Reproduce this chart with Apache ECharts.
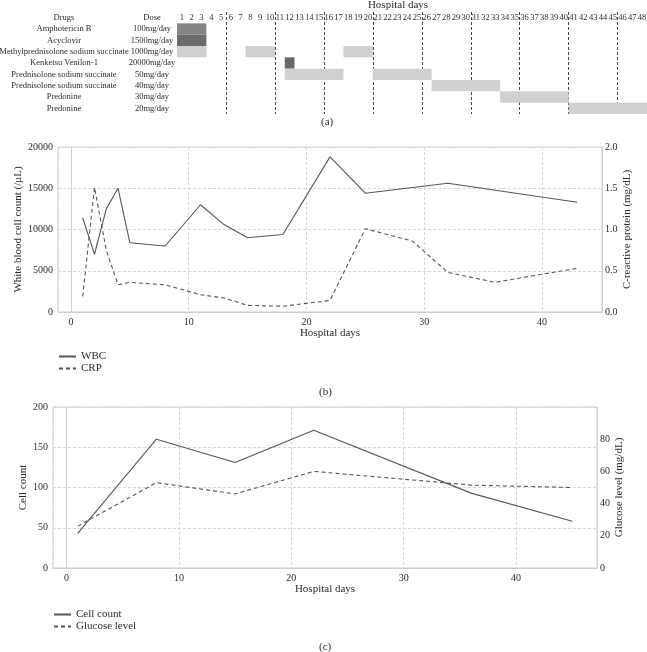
<!DOCTYPE html>
<html>
<head>
<meta charset="utf-8">
<script src="https://cdn.jsdelivr.net/npm/echarts@6/dist/echarts.min.js"></script>
<style>
  html, body { margin: 0; padding: 0; background: #fff; }
  #box { width: 647px; height: 652px; }
</style>
</head>
<body>
<div id="box"></div>
<script>
// ---- panel (a): drug schedule ----
const drugs = ["Drugs", "Amphotericin B", "Acyclovir", "Methylprednisolone sodium succinate",
  "Kenketsu Venilon-1", "Prednisolone sodium succinate", "Prednisolone sodium succinate",
  "Predonine", "Predonine"];
const doses = ["Dose", "100mg/day", "1500mg/day", "1000mg/day", "20000mg/day",
  "50mg/day", "40mg/day", "30mg/day", "20mg/day"];
const days = [];
for (let d = 1; d <= 48; d++) days.push(String(d));
// [row, first day, last day]
const regimens = [
  [1, 1, 3], [2, 1, 3], [3, 1, 3], [3, 8, 10], [3, 18, 20], [4, 12, 12],
  [5, 12, 17], [5, 21, 26], [6, 27, 33], [7, 34, 40], [8, 41, 48]
];
const rowColors = ["#fff", "#858585", "#6b6b6b", "#d0d0d0", "#6a6a6a", "#d0d0d0", "#d0d0d0", "#d0d0d0", "#d0d0d0"];

// ---- panel (b): WBC / CRP ----
const labDays = [1, 2, 3, 4, 5, 8, 11, 13, 15, 18, 22, 25, 29, 32, 36, 43];
const wbc = [11400, 7000, 12500, 15000, 8400, 8000, 13000, 10600, 9000, 9400, 18800, 14400, null, 15600, null, 13300];
const crp = [0.19, 1.51, 0.75, 0.33, 0.36, 0.33, 0.21, 0.17, 0.08, 0.07, 0.14, 1.01, 0.86, 0.48, 0.36, 0.53];

// ---- panel (c): CSF ----
const csfDays = [1, 8, 15, 22, 36, 45];
const cellCount = [43, 160, 131, 171, 93, 58];
const glucose = [26, 53, 46, 60, 51.5, 50];

const FONT = "Liberation Serif";
const TXT = "#2b2b2b";
const LINE = "#555";
const gridDash = { color: "#d8d8d8", type: [3, 2], width: 1 };

function pairs(xs, ys) {
  return xs.map((x, i) => [x, ys[i]]).filter(p => p[1] != null);
}

var myChart = echarts.init(document.getElementById("box"));

const legendBase = {
  orient: "vertical", itemWidth: 17, itemHeight: 10, itemGap: 1,
  itemStyle: { opacity: 0 },
  textStyle: { fontFamily: FONT, fontSize: 11, color: TXT }
};

const option = {
  animation: false,
  textStyle: { fontFamily: FONT, color: TXT },
  title: [
    { text: "(a)", left: 316, top: 112, textStyle: { fontFamily: FONT, fontSize: 11, fontWeight: "normal", color: TXT } },
    { text: "(b)", left: 314, top: 382, textStyle: { fontFamily: FONT, fontSize: 11, fontWeight: "normal", color: TXT } },
    { text: "(c)", left: 314, top: 637, textStyle: { fontFamily: FONT, fontSize: 11, fontWeight: "normal", color: TXT } }
  ],
  legend: [
    Object.assign({ data: ["WBC", "CRP"], left: 53, top: 346 }, legendBase),
    Object.assign({ data: ["Cell count", "Glucose level"], left: 48, top: 604 }, legendBase)
  ],
  grid: [
    { left: 177, right: 0, top: 12, height: 102, outerBoundsMode: "none" },
    { left: 58, right: 45, top: 147, height: 165, show: true, borderColor: "#cfcfcf", borderWidth: 1, outerBoundsMode: "none" },
    { left: 53, right: 50, top: 407, height: 161, show: true, borderColor: "#cfcfcf", borderWidth: 1, outerBoundsMode: "none" }
  ],
  xAxis: [
    {
      gridIndex: 0, type: "category", data: days, position: "top",
      name: "Hospital days", nameLocation: "middle", nameGap: 1,
      nameTextStyle: { fontFamily: FONT, fontSize: 11, color: TXT, padding: [0, 28, 0, 0] },
      axisLine: { show: false }, axisTick: { show: false },
      axisLabel: { inside: true, interval: 0, margin: 1, fontSize: 8.5, fontFamily: FONT, color: TXT },
      splitLine: {
        show: true,
        interval: (i) => i > 0 && i % 5 === 0,
        lineStyle: { color: "#444", type: [3, 2], width: 1 }
      }
    },
    {
      gridIndex: 1, type: "value", min: -1.1, max: 45.1,
      name: "Hospital days", nameLocation: "middle", nameGap: 16,
      nameTextStyle: { fontFamily: FONT, fontSize: 11, color: TXT },
      axisLine: { show: true, lineStyle: { color: "#cfcfcf" } }, axisTick: { show: false },
      axisLabel: { fontSize: 10, fontFamily: FONT, color: TXT, margin: 5,
        formatter: v => (Math.abs(v % 10) < 1e-6 ? String(v) : "") },
      splitLine: { show: true, lineStyle: gridDash }
    },
    {
      gridIndex: 2, type: "value", min: -1.2, max: 47.2,
      name: "Hospital days", nameLocation: "middle", nameGap: 16,
      nameTextStyle: { fontFamily: FONT, fontSize: 11, color: TXT },
      axisLine: { show: true, lineStyle: { color: "#cfcfcf" } }, axisTick: { show: false },
      axisLabel: { fontSize: 10, fontFamily: FONT, color: TXT, margin: 5,
        formatter: v => (Math.abs(v % 10) < 1e-6 ? String(v) : "") },
      splitLine: { show: true, lineStyle: gridDash }
    }
  ],
  yAxis: [
    {
      gridIndex: 0, type: "category", data: drugs, inverse: true,
      axisLine: { show: false }, axisTick: { show: false }, splitLine: { show: false },
      axisLabel: {
        margin: 2, interval: 0,
        formatter: (v, i) => "{n|" + v + "}{d|" + doses[i] + "}",
        rich: {
          n: { width: 130, align: "center", fontSize: 8.5, fontFamily: FONT, color: TXT },
          d: { width: 46, align: "center", fontSize: 8.5, fontFamily: FONT, color: TXT }
        }
      }
    },
    {
      gridIndex: 1, type: "value", min: 0, max: 20000, interval: 5000, position: "left",
      name: "White blood cell count (/\u03bcL)", nameLocation: "middle", nameGap: 34, nameRotate: 90,
      nameMoveOverlap: false,
      nameTextStyle: { fontFamily: FONT, fontSize: 11, color: TXT },
      axisLine: { show: true, lineStyle: { color: "#cfcfcf" } }, axisTick: { show: false },
      axisLabel: { fontSize: 10, fontFamily: FONT, color: TXT, margin: 5, formatter: v => String(v) },
      splitLine: { show: true, lineStyle: gridDash }
    },
    {
      gridIndex: 1, type: "value", min: 0, max: 2, interval: 0.5, position: "right",
      name: "C-reactive protein (mg/dL)", nameLocation: "middle", nameGap: 20, nameRotate: 90,
      nameMoveOverlap: false,
      nameTextStyle: { fontFamily: FONT, fontSize: 11, color: TXT },
      axisLine: { show: true, lineStyle: { color: "#cfcfcf" } }, axisTick: { show: false },
      axisLabel: { fontSize: 10, fontFamily: FONT, color: TXT, margin: 3, formatter: v => v.toFixed(1) },
      splitLine: { show: false }
    },
    {
      gridIndex: 2, type: "value", min: 0, max: 200, interval: 50, position: "left",
      name: "Cell count", nameLocation: "middle", nameGap: 24, nameRotate: 90,
      nameMoveOverlap: false,
      nameTextStyle: { fontFamily: FONT, fontSize: 11, color: TXT },
      axisLine: { show: true, lineStyle: { color: "#cfcfcf" } }, axisTick: { show: false },
      axisLabel: { fontSize: 10, fontFamily: FONT, color: TXT, margin: 5, formatter: v => String(v) },
      splitLine: { show: true, lineStyle: gridDash }
    },
    {
      gridIndex: 2, type: "value", min: 0, max: 100, interval: 20, position: "right",
      name: "Glucose level (mg/dL)", nameLocation: "middle", nameGap: 17, nameRotate: 90,
      nameMoveOverlap: false,
      nameTextStyle: { fontFamily: FONT, fontSize: 11, color: TXT },
      axisLine: { show: true, lineStyle: { color: "#cfcfcf" } }, axisTick: { show: false },
      axisLabel: { fontSize: 10, fontFamily: FONT, color: TXT, margin: 3,
        formatter: v => (v >= 100 ? "" : String(v)) },
      splitLine: { show: false }
    }
  ],
  series: [
    {
      type: "custom", xAxisIndex: 0, yAxisIndex: 0,
      encode: { x: [1, 2], y: 0 },
      data: regimens,
      renderItem: function (params, api) {
        const row = api.value(0);
        const p0 = api.coord([api.value(1) - 1, row]);
        const p1 = api.coord([api.value(2) - 1, row]);
        const size = api.size([1, 1]);
        return {
          type: "rect",
          shape: { x: p0[0] - size[0] / 2, y: p0[1] - size[1] / 2, width: p1[0] - p0[0] + size[0], height: size[1] },
          style: { fill: rowColors[row] }
        };
      }
    },
    {
      name: "WBC", type: "line", xAxisIndex: 1, yAxisIndex: 1, symbol: "none",
      data: pairs(labDays, wbc), lineStyle: { color: LINE, width: 1.1 }, itemStyle: { color: LINE }
    },
    {
      name: "CRP", type: "line", xAxisIndex: 1, yAxisIndex: 2, symbol: "none",
      data: pairs(labDays, crp), lineStyle: { color: LINE, width: 1.1, type: [4, 3] }, itemStyle: { color: LINE }
    },
    {
      name: "Cell count", type: "line", xAxisIndex: 2, yAxisIndex: 3, symbol: "none",
      data: pairs(csfDays, cellCount), lineStyle: { color: LINE, width: 1.1 }, itemStyle: { color: LINE }
    },
    {
      name: "Glucose level", type: "line", xAxisIndex: 2, yAxisIndex: 4, symbol: "none",
      data: pairs(csfDays, glucose), lineStyle: { color: LINE, width: 1.1, type: [4, 3] }, itemStyle: { color: LINE }
    }
  ]
};

myChart.setOption(option);
</script>
</body>
</html>
